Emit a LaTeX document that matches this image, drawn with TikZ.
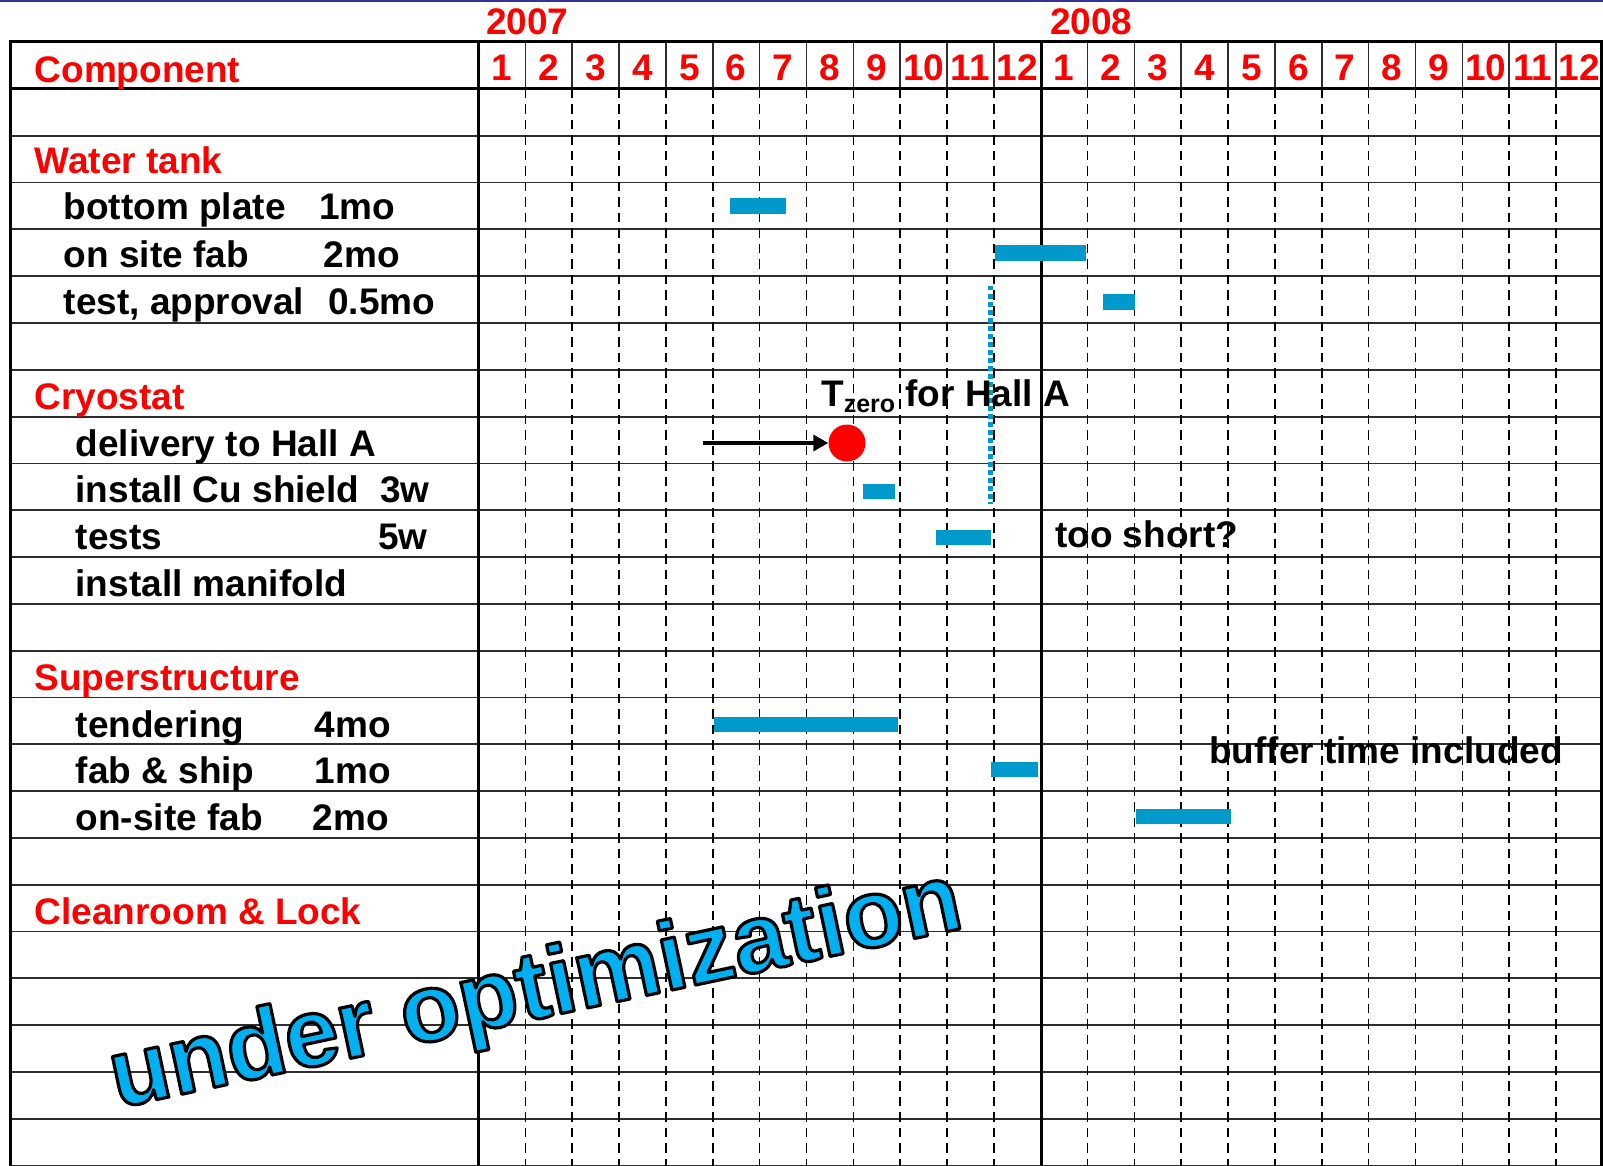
\documentclass[tikz,border=0pt]{standalone}
\usepackage{fontspec}
\setmainfont{Liberation Sans}
\usetikzlibrary{arrows.meta}
\definecolor{hdrred}{RGB}{255,0,0}
\definecolor{barblue}{RGB}{0,153,204}
\definecolor{wordcyan}{RGB}{0,176,240}
\definecolor{navyline}{RGB}{51,51,153}
\definecolor{gridgray}{RGB}{45,45,45}
\newcommand{\outlineon}{\special{pdf:literal direct 2 Tr 3.2 w 0 0 0 RG 1 j}}
\newcommand{\outlineoff}{\special{pdf:literal direct 0 Tr}}
\begin{document}
\begin{tikzpicture}[x=1pt,y=-1pt,
  lbl/.style={anchor=base west,inner sep=0pt,font=\fontsize{37}{44}\selectfont\bfseries},
  grp/.style={lbl,text=hdrred},
  mon/.style={anchor=base,inner sep=0pt,font=\fontsize{37}{44}\selectfont\bfseries,text=hdrred},
  ganttbar/.style={fill=barblue,draw=none},
  thickline/.style={line width=3pt,black},
  rowline/.style={line width=1.8pt,gridgray},
  hdrline/.style={line width=1.6pt,gridgray},
  dashline/.style={line width=1.6pt,black,dash pattern=on 9.5pt off 6pt},
  dotline/.style={line width=4.5pt,barblue,dash pattern=on 4.5pt off 3.5pt}
]
\fill[white] (0,0) rectangle (1603,1166);
\useasboundingbox (0,0) rectangle (1603,1166);
% top slide line
\draw[navyline,line width=2.5pt] (0,1.25) -- (1603,1.25);
% row lines
\foreach \k in {1,...,23} \draw[rowline] (10,{89+46.8*\k}) -- (1601.5,{89+46.8*\k});
% dashed month lines in body
\foreach \m in {1,...,23} {\ifnum\m=12\else
  \draw[dashline] ({478.5+46.85*\m},89) -- ({478.5+46.85*\m},1166);\fi}
% month separators in header
\foreach \m in {1,...,23} \draw[hdrline] ({478.5+46.85*\m},42) -- ({478.5+46.85*\m},89);
% thick frame lines
\draw[thickline] (10,1166) -- (10,42) -- (1601.5,42) -- (1601.5,1166);
\draw[thickline] (10,89) -- (1601.5,89);
\draw[thickline] (478.5,42) -- (478.5,1166);
\draw[thickline] (1041.5,42) -- (1041.5,1166);

% years and months
\node[lbl,text=hdrred] (y2007) at (486,35) {2007};
\node[lbl,text=hdrred] (y2008) at (1050,35) {2008};
\foreach \m in {1,...,12} {
  \node[mon] (ma\m) at ({478.5+46.85*(\m-0.5)},81) {\m};
  \node[mon] (mb\m) at ({478.5+46.85*(\m+11.5)},81) {\m};
}

% left column
\node[grp] (comp) at (34.5,83) {Component};
\node[grp] (wt) at (34.5,173.5) {Water tank};
\node[lbl] (bp) at (63.5,220) {bottom plate};
\node[lbl] (bpd) at (319,220) {1mo};
\node[lbl] (osf) at (63.5,267.5) {on site fab};
\node[lbl] (osfd) at (323.5,267.5) {2mo};
\node[lbl] (ta) at (63.5,314) {test, approval};
\node[lbl] (tad) at (328,314) {0.5mo};
\node[grp] (cry) at (34.5,409) {Cryostat};
\node[lbl] (del) at (75.5,456) {delivery to Hall A};
\node[lbl] (cu) at (75.5,502.5) {install Cu shield};
\node[lbl] (cud) at (380,502.5) {3w};
\node[lbl] (tst) at (75.5,549.5) {tests};
\node[lbl] (tstd) at (378,549.5) {5w};
\node[lbl] (man) at (75.5,596) {install manifold};
\node[grp] (sup) at (34.5,690) {Superstructure};
\node[lbl] (ten) at (75.5,737) {tendering};
\node[lbl] (tend) at (314.5,737) {4mo};
\node[lbl] (fs) at (75.5,783.5) {fab \& ship};
\node[lbl] (fsd) at (314.5,783.5) {1mo};
\node[lbl] (osf2) at (75.5,830.5) {on-site fab};
\node[lbl] (osf2d) at (312.5,830.5) {2mo};
\node[grp] (clr) at (34.5,924) {Cleanroom \& Lock};

% bars
\fill[ganttbar] (730,198) rectangle (786,214);
\fill[ganttbar] (995,245) rectangle (1086,261);
\fill[ganttbar] (1103,294) rectangle (1135,309.5);
\fill[ganttbar] (863,483.5) rectangle (895,499);
\fill[ganttbar] (936,529.5) rectangle (990.5,544.5);
\fill[ganttbar] (713.5,716.5) rectangle (898,731.5);
\fill[ganttbar] (990.5,761.5) rectangle (1038,777);
\fill[ganttbar] (1135.5,808.5) rectangle (1230.5,824);

% dotted marker line
\coordinate (dtop) at (990.5,286);
\coordinate (dbot) at (990.5,504);
\draw[dotline] (dtop) -- (dbot);

% T zero
\node[lbl] (tzl) at (821,406.7) {T\raisebox{-6pt}{\fontsize{25}{28}\selectfont zero} for Hall A};
\node[circle,fill=hdrred,draw=none,minimum size=37pt,inner sep=0pt] (tz) at (847,443) {};
\coordinate (astart) at (703,443);
\draw[line width=3.4pt,-{Triangle[length=15pt,width=16pt]}] (astart) -- (tz);

% notes
\node[lbl] (short) at (1055,547) {too short?};
\node[lbl] (buf) at (1209,763) {buffer time included};

% word art
\node[rotate=12,anchor=base west,inner sep=0pt,font=\fontsize{97}{110}\selectfont\bfseries,text=wordcyan] (uo) at (117,1108)
  {\outlineon under optimization\outlineoff};
\end{tikzpicture}
\end{document}
